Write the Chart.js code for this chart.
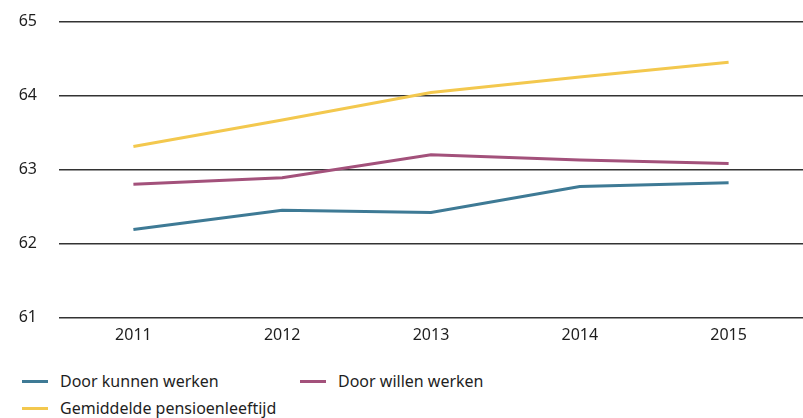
<!DOCTYPE html>
<html>
<head>
<meta charset="utf-8">
<script src="https://cdn.jsdelivr.net/npm/chart.js@4"></script>
<style>
    body { margin: 0; background: #fff; font-family: "Noto Sans", sans-serif; color: #1e1e1e; }
    #wrap { position: relative; width: 803px; height: 418px; overflow: hidden; }
    #box { position: absolute; left: 0; top: -10px; width: 803px; height: 359px; }
    .leg { position: absolute; font-size: 16px; line-height: 20px; white-space: nowrap; }
    .leg span.sw { position: absolute; left: -38px; top: 9px; width: 26px; height: 3px; }
</style>
</head>
<body>
<div id="wrap">
    <div id="box"><canvas id="chart"></canvas></div>
    <div id="legend"></div>
</div>
<script>
// data
const years = ['2011', '2012', '2013', '2014', '2015'];
const kunnen = [62.19, 62.45, 62.42, 62.77, 62.82];
const willen = [62.80, 62.89, 63.20, 63.13, 63.08];
const pensioen = [63.31, 63.67, 64.04, 64.25, 64.45];

const series = [
    { label: 'Door kunnen werken', data: kunnen, color: '#3e7a95', x: 60, y: 371 },
    { label: 'Door willen werken', data: willen, color: '#a3517b', x: 338, y: 371 },
    { label: 'Gemiddelde pensioenleeftijd', data: pensioen, color: '#f3c84e', x: 60, y: 398 }
];

// html legend
const legendEl = document.getElementById('legend');
series.forEach(s => {
    const d = document.createElement('div');
    d.className = 'leg';
    d.style.left = s.x + 'px';
    d.style.top = s.y + 'px';
    d.innerHTML = `<span class="sw" style="background:${s.color}"></span>${s.label}`;
    legendEl.appendChild(d);
});

const tickFont = { family: 'Noto Sans', size: 16 };

new Chart(document.getElementById('chart'), {
    type: 'line',
    data: {
        labels: years,
        datasets: series.map(s => ({
            label: s.label,
            data: s.data,
            borderColor: s.color,
            backgroundColor: s.color,
            borderWidth: 3,
            pointRadius: 0,
            tension: 0
        }))
    },
    options: {
        responsive: true,
        maintainAspectRatio: false,
        animation: false,
        layout: { padding: { top: 10, right: 0, left: 0, bottom: 0 } },
        plugins: { legend: { display: false }, tooltip: { enabled: false } },
        scales: {
            x: {
                offset: true,
                grid: { display: false },
                border: { display: false },
                ticks: { color: '#1e1e1e', padding: 0, font: tickFont }
            },
            y: {
                min: 61,
                max: 65,
                border: { display: false },
                grid: { color: '#333', lineWidth: 1.5, drawTicks: false },
                ticks: { stepSize: 1, color: '#1e1e1e', padding: 22, font: tickFont },
                afterFit: scale => { scale.width = 59; }
            }
        }
    }
});
</script>
</body>
</html>
